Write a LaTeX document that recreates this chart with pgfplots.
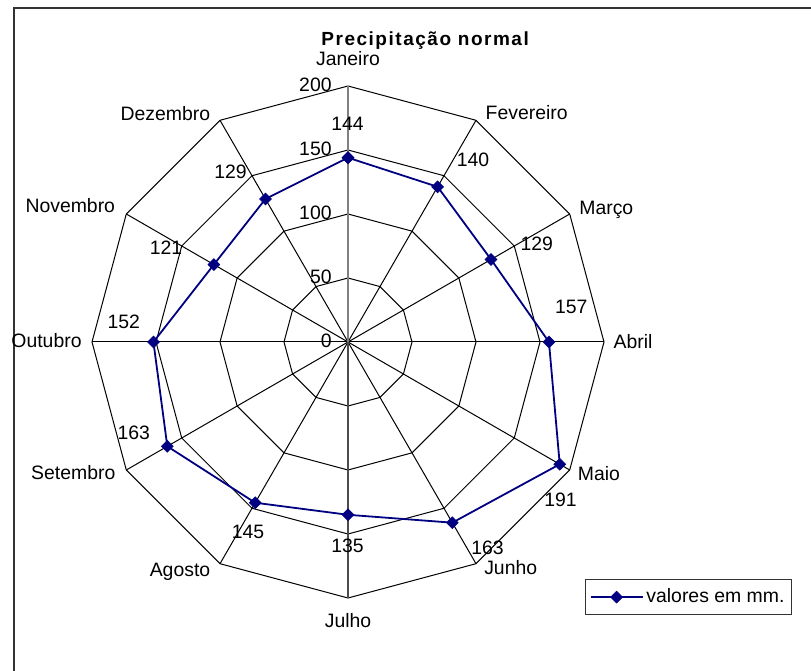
\documentclass[border=0pt]{standalone}
\usepackage{pgfplots}
\pgfplotsset{compat=1.18}
\usepackage{fontspec}
\setmainfont{Liberation Sans}
\definecolor{navyblue}{RGB}{0,0,128}
\definecolor{axisgray}{RGB}{128,128,128}
\begin{document}
\begin{tikzpicture}[font=\fontsize{9.7pt}{11.6pt}\selectfont]
\path[use as bounding box] (0,0) rectangle (405.5pt,335.5pt);
% chart area frame (left and top edges visible)
\draw[line width=1.1pt, black!80] (7pt,-10pt) -- (7pt,331.5pt) -- (430pt,331.5pt);
\begin{axis}[
  at={(0,0)}, anchor=south west,
  x=0.64pt, y=0.64pt,
  xmin=-271.875, xmax=361.72, ymin=-257.03, ymax=267.19,
  hide axis, clip=false,
  legend style={at={(0.9766,0.1371)}, anchor=north east, draw=black!80, line width=0.6pt,
    inner xsep=2pt, inner ysep=3pt, font=\fontsize{9.7pt}{11.6pt}\selectfont,
    nodes={inner sep=1.5pt}},
  legend image code/.code={\draw[mark repeat=2,mark phase=2,#1] plot coordinates {(0pt,0pt) (13pt,0pt) (26pt,0pt)};},
]
% rings
\addplot[forget plot, black, line width=0.5pt, data cs=polar] coordinates {(90,50) (60,50) (30,50) (0,50) (-30,50) (-60,50) (-90,50) (-120,50) (-150,50) (-180,50) (-210,50) (-240,50) (-270,50)};
\addplot[forget plot, black, line width=0.5pt, data cs=polar] coordinates {(90,100) (60,100) (30,100) (0,100) (-30,100) (-60,100) (-90,100) (-120,100) (-150,100) (-180,100) (-210,100) (-240,100) (-270,100)};
\addplot[forget plot, black, line width=0.5pt, data cs=polar] coordinates {(90,150) (60,150) (30,150) (0,150) (-30,150) (-60,150) (-90,150) (-120,150) (-150,150) (-180,150) (-210,150) (-240,150) (-270,150)};
\addplot[forget plot, black, line width=0.5pt, data cs=polar] coordinates {(90,200) (60,200) (30,200) (0,200) (-30,200) (-60,200) (-90,200) (-120,200) (-150,200) (-180,200) (-210,200) (-240,200) (-270,200)};
% spokes
\addplot[forget plot, black, line width=0.5pt, data cs=polar] coordinates {(0,200) (180,200)};
\addplot[forget plot, black, line width=0.5pt, data cs=polar] coordinates {(30,200) (210,200)};
\addplot[forget plot, black, line width=0.5pt, data cs=polar] coordinates {(60,200) (240,200)};
\addplot[forget plot, black, line width=0.5pt, data cs=polar] coordinates {(120,200) (300,200)};
\addplot[forget plot, black, line width=0.5pt, data cs=polar] coordinates {(150,200) (330,200)};
\addplot[forget plot, black!70, line width=0.6pt, data cs=polar] coordinates {(0,0) (270,200)};
\addplot[forget plot, axisgray, line width=1pt, data cs=polar] coordinates {(0,0) (90,200)};
% data
\addplot[navyblue, line width=0.9pt, mark=square*, mark size=2.1pt,
  mark options={rotate=45, solid, fill=navyblue, draw=navyblue, line width=0.3pt}, data cs=polar]
  coordinates {(90,144) (60,140) (30,129) (0,157) (-30,191) (-60,163) (-90,135) (-120,145) (-150,163) (-180,152) (-210,121) (-240,129) (-270,144)};
\addlegendentry{valores em mm.}
\end{axis}
\begin{scope}[x=0.5pt, y=-0.5pt, shift={(0,335.5pt)}]
% title
\node[anchor=base west, inner sep=0pt, font=\fontsize{9.5pt}{11pt}\selectfont\bfseries\addfontfeature{LetterSpace=8}] at (321,46) {Precipitação normal};
% category labels
\node[anchor=base, inner sep=0pt] at (348,65.7) {Janeiro};
\node[anchor=base, inner sep=0pt] at (526.7,120) {Fevereiro};
\node[anchor=base, inner sep=0pt] at (606.3,215) {Março};
\node[anchor=base, inner sep=0pt] at (633,348.3) {Abril};
\node[anchor=base, inner sep=0pt] at (599,480.7) {Maio};
\node[anchor=base, inner sep=0pt] at (510.7,575) {Junho};
\node[anchor=base, inner sep=0pt] at (348,627.7) {Julho};
\node[anchor=base, inner sep=0pt] at (180,577) {Agosto};
\node[anchor=base, inner sep=0pt] at (73.3,480) {Setembro};
\node[anchor=base, inner sep=0pt] at (46.5,347.7) {Outubro};
\node[anchor=base, inner sep=0pt] at (70.3,213) {Novembro};
\node[anchor=base, inner sep=0pt] at (165.4,120.7) {Dezembro};
% axis value labels
\node[anchor=base east, inner sep=0pt] at (332,91.7) {200};
\node[anchor=base east, inner sep=0pt] at (332,155.5) {150};
\node[anchor=base east, inner sep=0pt] at (332,219.5) {100};
\node[anchor=base east, inner sep=0pt] at (332,283.5) {50};
\node[anchor=base east, inner sep=0pt] at (332,347.5) {0};
% data labels
\node[anchor=base, inner sep=0pt] at (347.5,130.7) {144};
\node[anchor=base, inner sep=0pt] at (473,166.7) {140};
\node[anchor=base, inner sep=0pt] at (536.7,250.7) {129};
\node[anchor=base, inner sep=0pt] at (571.3,313.3) {157};
\node[anchor=base, inner sep=0pt] at (560.5,506.7) {191};
\node[anchor=base, inner sep=0pt] at (487.5,555) {163};
\node[anchor=base, inner sep=0pt] at (347.5,552.3) {135};
\node[anchor=base, inner sep=0pt] at (248,539) {145};
\node[anchor=base, inner sep=0pt] at (133.8,440) {163};
\node[anchor=base, inner sep=0pt] at (123.8,328.3) {152};
\node[anchor=base, inner sep=0pt] at (166,255) {121};
\node[anchor=base, inner sep=0pt] at (230.5,179) {129};
\end{scope}
\end{tikzpicture}
\end{document}
